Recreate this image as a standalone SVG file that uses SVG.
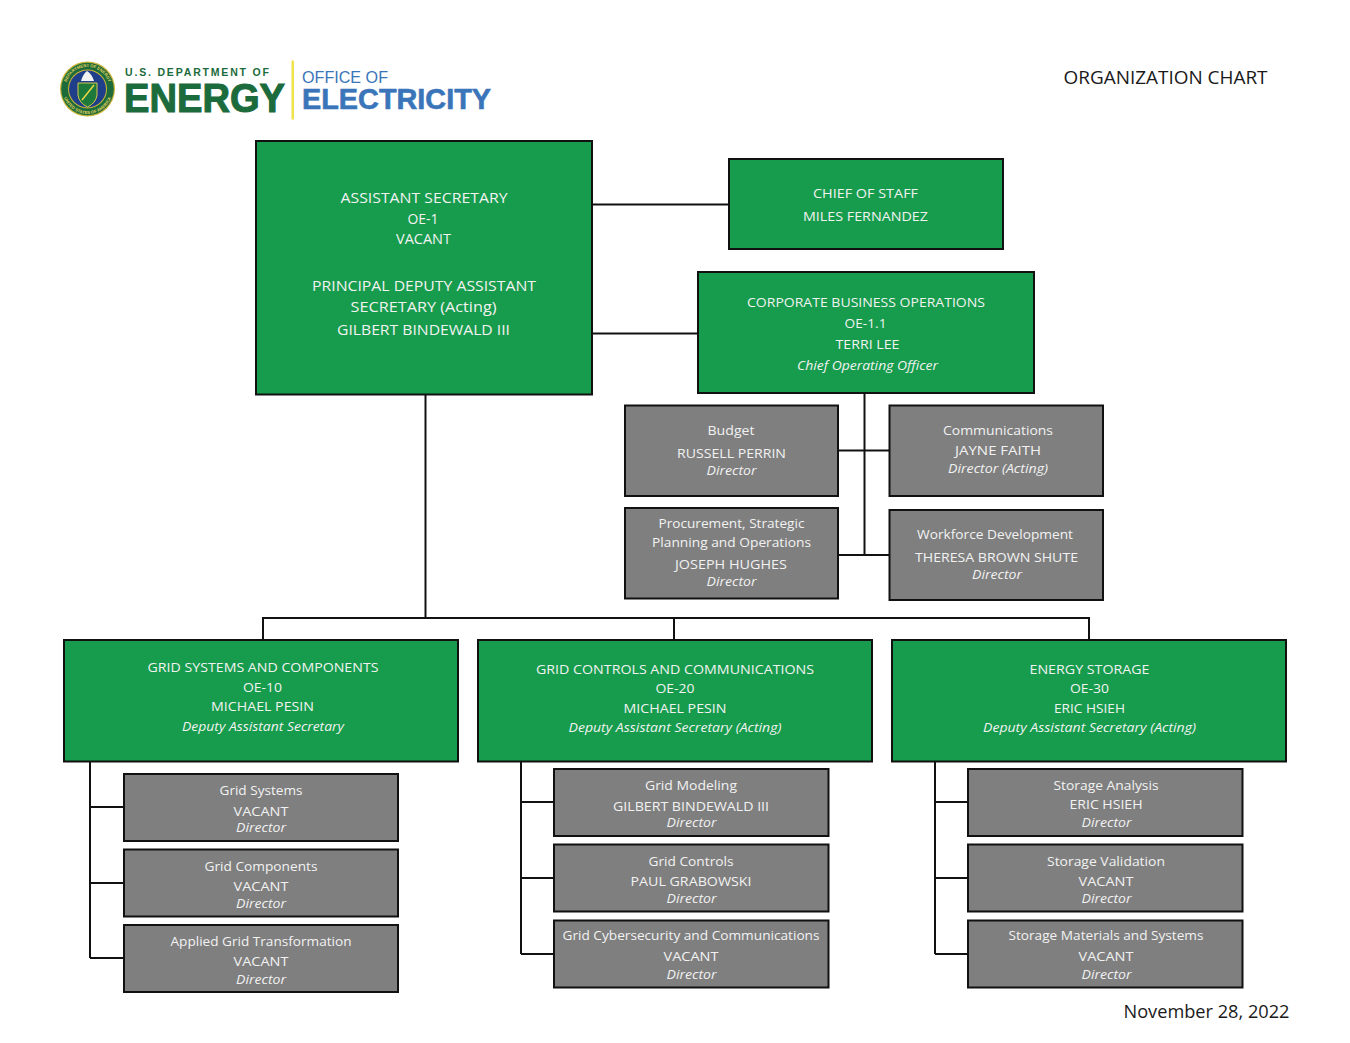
<svg xmlns="http://www.w3.org/2000/svg" width="1350" height="1043" viewBox="0 0 1350 1043">
<style>
.g{fill:#169c4c;stroke:#111;stroke-width:2}
.k{fill:#7f7f7f;stroke:#111;stroke-width:2}
text{font-family:"Open Sans","Noto Sans",sans-serif;text-anchor:middle;fill:#f2f2f2;font-size:13.5px}
g[id]:not(#logo) text{transform:translateY(-.7px)}
.l{font-size:15px}
.m{font-size:14px}
.i{font-style:italic;font-size:13px}
.d{fill:#1a1a1a;font-size:18.5px}
.c path{fill:none;stroke:#111;stroke-width:2}
.logo{font-family:"Liberation Sans",Arial,sans-serif;text-anchor:start;font-weight:700}
.seal{font-family:"Liberation Sans",Arial,sans-serif;font-size:4.2px;font-weight:700;fill:#e2d25a}
</style>
<defs>
<path id="seal-top" d="M65.500 89A22 22 0 0 1 109.500 89"/>
<path id="seal-bottom" d="M62.500 89A25 25 0 0 0 112.500 89"/>
</defs>
<rect width="1350" height="1043" fill="#fff"/>
<g id="logo">
<circle cx="87.500" cy="89" r="27.500" fill="#c9b53a"/>
<circle cx="87.500" cy="89" r="26.300" fill="#1d6b3a"/>
<text class="seal"><textPath href="#seal-top" startOffset="50%">DEPARTMENT OF ENERGY</textPath></text>
<text class="seal"><textPath href="#seal-bottom" startOffset="50%">UNITED STATES OF AMERICA</textPath></text>
<circle cx="87.500" cy="89" r="19.500" fill="#c9b53a"/>
<circle cx="87.500" cy="89" r="18.500" fill="#1f3f8a"/>
<path d="M78 83H97V95Q96 103 87.500 107Q79 103 78 95Z" fill="#1d7a3a" stroke="#d8c64a"/>
<path d="M82 100L94 85" stroke="#e8d84a" stroke-width="1.500"/>
<path d="M81 81Q83 74 87 71Q92 74 94 81Z" fill="#f2f2f2"/>
<text class="logo" x="125" y="76" textLength="144" lengthAdjust="spacing" style="font-size:10.500px;fill:#1b6b3c">U.S. DEPARTMENT OF</text>
<text class="logo" x="124" y="112" textLength="161" lengthAdjust="spacingAndGlyphs" style="font-size:41px;fill:#1b6b3c;stroke:#1b6b3c;stroke-width:1.100">ENERGY</text>
<rect x="291.500" y="60.500" width="2.500" height="59" fill="#f0e24a"/>
<text class="logo" x="302" y="83" textLength="86" lengthAdjust="spacingAndGlyphs" style="font-size:16px;font-weight:400;fill:#3a75b9">OFFICE OF</text>
<text class="logo" x="302" y="108.500" textLength="189" lengthAdjust="spacingAndGlyphs" style="font-size:29px;fill:#3a75b9;stroke:#3a75b9;stroke-width:.6">ELECTRICITY</text>
</g>
<text class="d" x="1165.500" y="84" textLength="204" lengthAdjust="spacingAndGlyphs">ORGANIZATION CHART</text>
<text class="d" x="1206.500" y="1018" textLength="166" lengthAdjust="spacingAndGlyphs">November 28, 2022</text>
<g id="connectors" class="c">
<path d="M592 204.500H729"/>
<path d="M592 333.500H698"/>
<path d="M425.500 395V618"/>
<path d="M263 640V618H1089V640"/>
<path d="M674 618V640"/>
<path d="M864.500 393V555"/>
<path d="M838 450.500H889"/>
<path d="M838 555H889"/>
<path d="M90 762V958M90 807H123M90 883H123M90 958H123"/>
<path d="M521 762V954M521 802H553M521 878H553M521 954H553"/>
<path d="M935 762V954M935 802H967M935 878H967M935 954H967"/>
</g>
<g id="assistant-secretary"><rect class="g" x="256" y="141" width="336" height="253.500"/>
<text class="l" x="424" y="204" textLength="167" lengthAdjust="spacingAndGlyphs">ASSISTANT SECRETARY</text>
<text class="m" x="423" y="224.500" textLength="31" lengthAdjust="spacingAndGlyphs">OE-1</text>
<text class="m" x="423.500" y="244.500" textLength="55" lengthAdjust="spacingAndGlyphs">VACANT</text>
<text class="l" x="424" y="292" textLength="224" lengthAdjust="spacingAndGlyphs">PRINCIPAL DEPUTY ASSISTANT</text>
<text class="l" x="423.500" y="313" textLength="146" lengthAdjust="spacingAndGlyphs">SECRETARY (Acting)</text>
<text class="l" x="423.500" y="336" textLength="173" lengthAdjust="spacingAndGlyphs">GILBERT BINDEWALD III</text></g>
<g id="chief-of-staff"><rect class="g" x="729" y="159" width="274" height="90"/>
<text x="865.500" y="198.500" textLength="105" lengthAdjust="spacingAndGlyphs">CHIEF OF STAFF</text>
<text x="865.500" y="221.500" textLength="125" lengthAdjust="spacingAndGlyphs">MILES FERNANDEZ</text></g>
<g id="corporate-business-operations"><rect class="g" x="698" y="272" width="336" height="121"/>
<text x="866" y="308" textLength="238" lengthAdjust="spacingAndGlyphs">CORPORATE BUSINESS OPERATIONS</text>
<text x="865.500" y="329" textLength="42" lengthAdjust="spacingAndGlyphs">OE-1.1</text>
<text x="867.500" y="350" textLength="64" lengthAdjust="spacingAndGlyphs">TERRI LEE</text>
<text class="i" x="867.500" y="370.500" textLength="141" lengthAdjust="spacingAndGlyphs">Chief Operating Officer</text></g>
<g id="budget"><rect class="k" x="625" y="405.500" width="213" height="90.500"/>
<text x="731" y="435.500" textLength="47" lengthAdjust="spacingAndGlyphs">Budget</text>
<text x="731.500" y="458.500" textLength="109" lengthAdjust="spacingAndGlyphs">RUSSELL PERRIN</text>
<text class="i" x="731.500" y="476" textLength="50" lengthAdjust="spacingAndGlyphs">Director</text></g>
<g id="communications"><rect class="k" x="889.500" y="405.500" width="213.500" height="90.500"/>
<text x="998" y="435.500" textLength="110" lengthAdjust="spacingAndGlyphs">Communications</text>
<text x="998" y="455.500" textLength="86" lengthAdjust="spacingAndGlyphs">JAYNE FAITH</text>
<text class="i" x="998" y="474" textLength="100" lengthAdjust="spacingAndGlyphs">Director (Acting)</text></g>
<g id="procurement"><rect class="k" x="625" y="508" width="213" height="90.500"/>
<text x="731.500" y="529" textLength="146" lengthAdjust="spacingAndGlyphs">Procurement, Strategic</text>
<text x="731.500" y="547.500" textLength="159" lengthAdjust="spacingAndGlyphs">Planning and Operations</text>
<text x="731" y="569.500" textLength="112" lengthAdjust="spacingAndGlyphs">JOSEPH HUGHES</text>
<text class="i" x="731.500" y="587" textLength="50" lengthAdjust="spacingAndGlyphs">Director</text></g>
<g id="workforce-development"><rect class="k" x="889.500" y="510" width="213.500" height="90"/>
<text x="995" y="540" textLength="156" lengthAdjust="spacingAndGlyphs">Workforce Development</text>
<text x="996.500" y="562.500" textLength="163" lengthAdjust="spacingAndGlyphs">THERESA BROWN SHUTE</text>
<text class="i" x="997" y="580" textLength="50" lengthAdjust="spacingAndGlyphs">Director</text></g>
<g id="grid-systems-and-components"><rect class="g" x="64" y="640" width="394" height="121.500"/>
<text x="263" y="672.500" textLength="231" lengthAdjust="spacingAndGlyphs">GRID SYSTEMS AND COMPONENTS</text>
<text x="262.500" y="692.500" textLength="39" lengthAdjust="spacingAndGlyphs">OE-10</text>
<text x="262.500" y="712" textLength="103" lengthAdjust="spacingAndGlyphs">MICHAEL PESIN</text>
<text class="i" x="263" y="732" textLength="162" lengthAdjust="spacingAndGlyphs">Deputy Assistant Secretary</text></g>
<g id="grid-controls-and-communications"><rect class="g" x="478" y="640" width="394" height="121.500"/>
<text x="675" y="674.500" textLength="278" lengthAdjust="spacingAndGlyphs">GRID CONTROLS AND COMMUNICATIONS</text>
<text x="675" y="694" textLength="39" lengthAdjust="spacingAndGlyphs">OE-20</text>
<text x="675" y="713.500" textLength="103" lengthAdjust="spacingAndGlyphs">MICHAEL PESIN</text>
<text class="i" x="675" y="732.500" textLength="213" lengthAdjust="spacingAndGlyphs">Deputy Assistant Secretary (Acting)</text></g>
<g id="energy-storage"><rect class="g" x="892" y="640" width="394" height="121.500"/>
<text x="1089.500" y="674.500" textLength="120" lengthAdjust="spacingAndGlyphs">ENERGY STORAGE</text>
<text x="1089.500" y="694" textLength="39" lengthAdjust="spacingAndGlyphs">OE-30</text>
<text x="1089.500" y="713.500" textLength="71" lengthAdjust="spacingAndGlyphs">ERIC HSIEH</text>
<text class="i" x="1089.500" y="732.500" textLength="213" lengthAdjust="spacingAndGlyphs">Deputy Assistant Secretary (Acting)</text></g>
<g id="grid-systems"><rect class="k" x="124" y="774" width="274" height="67"/>
<text x="261" y="796" textLength="83" lengthAdjust="spacingAndGlyphs">Grid Systems</text>
<text x="261" y="816.500" textLength="55" lengthAdjust="spacingAndGlyphs">VACANT</text>
<text class="i" x="261" y="833" textLength="50" lengthAdjust="spacingAndGlyphs">Director</text></g>
<g id="grid-components"><rect class="k" x="124" y="849.500" width="274" height="67"/>
<text x="261" y="872" textLength="113" lengthAdjust="spacingAndGlyphs">Grid Components</text>
<text x="261" y="892" textLength="55" lengthAdjust="spacingAndGlyphs">VACANT</text>
<text class="i" x="261" y="908.500" textLength="50" lengthAdjust="spacingAndGlyphs">Director</text></g>
<g id="applied-grid-transformation"><rect class="k" x="124" y="925" width="274" height="67"/>
<text x="261" y="946.500" textLength="181" lengthAdjust="spacingAndGlyphs">Applied Grid Transformation</text>
<text x="261" y="966.500" textLength="55" lengthAdjust="spacingAndGlyphs">VACANT</text>
<text class="i" x="261" y="984.500" textLength="50" lengthAdjust="spacingAndGlyphs">Director</text></g>
<g id="grid-modeling"><rect class="k" x="554" y="769" width="274.500" height="67"/>
<text x="691" y="791" textLength="92" lengthAdjust="spacingAndGlyphs">Grid Modeling</text>
<text x="691" y="811.500" textLength="156" lengthAdjust="spacingAndGlyphs">GILBERT BINDEWALD III</text>
<text class="i" x="691.500" y="828" textLength="50" lengthAdjust="spacingAndGlyphs">Director</text></g>
<g id="grid-controls"><rect class="k" x="554" y="844.500" width="274.500" height="67"/>
<text x="691" y="867" textLength="85" lengthAdjust="spacingAndGlyphs">Grid Controls</text>
<text x="691" y="886.500" textLength="121" lengthAdjust="spacingAndGlyphs">PAUL GRABOWSKI</text>
<text class="i" x="691.500" y="903.500" textLength="50" lengthAdjust="spacingAndGlyphs">Director</text></g>
<g id="grid-cybersecurity-and-communications"><rect class="k" x="554" y="920.500" width="274.500" height="67"/>
<text x="691" y="941" textLength="257" lengthAdjust="spacingAndGlyphs">Grid Cybersecurity and Communications</text>
<text x="691" y="961.500" textLength="55" lengthAdjust="spacingAndGlyphs">VACANT</text>
<text class="i" x="691.500" y="979.500" textLength="50" lengthAdjust="spacingAndGlyphs">Director</text></g>
<g id="storage-analysis"><rect class="k" x="968" y="769" width="274.500" height="67"/>
<text x="1106" y="791" textLength="105" lengthAdjust="spacingAndGlyphs">Storage Analysis</text>
<text x="1106" y="810" textLength="73" lengthAdjust="spacingAndGlyphs">ERIC HSIEH</text>
<text class="i" x="1106.500" y="828" textLength="50" lengthAdjust="spacingAndGlyphs">Director</text></g>
<g id="storage-validation"><rect class="k" x="968" y="844.500" width="274.500" height="67"/>
<text x="1106" y="866.500" textLength="118" lengthAdjust="spacingAndGlyphs">Storage Validation</text>
<text x="1106" y="886.500" textLength="55" lengthAdjust="spacingAndGlyphs">VACANT</text>
<text class="i" x="1106.500" y="903.500" textLength="50" lengthAdjust="spacingAndGlyphs">Director</text></g>
<g id="storage-materials-and-systems"><rect class="k" x="968" y="920.500" width="274.500" height="67"/>
<text x="1106" y="941" textLength="195" lengthAdjust="spacingAndGlyphs">Storage Materials and Systems</text>
<text x="1106" y="961.500" textLength="55" lengthAdjust="spacingAndGlyphs">VACANT</text>
<text class="i" x="1106.500" y="979.500" textLength="50" lengthAdjust="spacingAndGlyphs">Director</text></g>
</svg>
